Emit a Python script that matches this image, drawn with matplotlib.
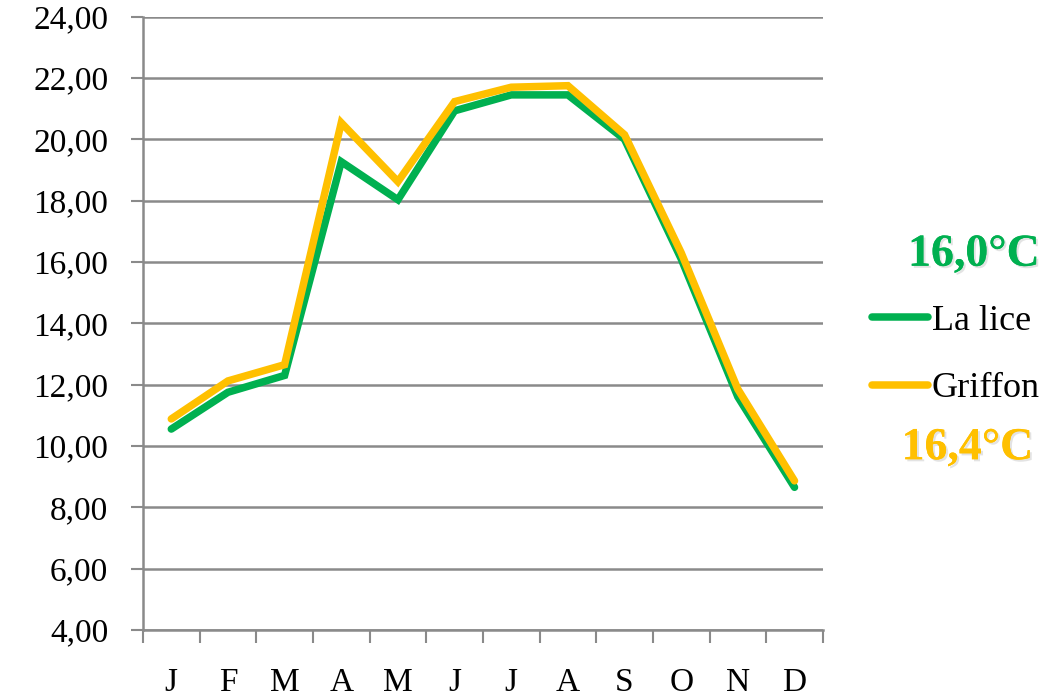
import matplotlib
matplotlib.use("Agg")
import matplotlib.pyplot as plt
import matplotlib.patheffects as pe
import numpy as np

months = ["J", "F", "M", "A", "M", "J", "J", "A", "S", "O", "N", "D"]
la_lice = [10.55, 11.75, 12.3, 19.27, 18.03, 20.93, 21.45, 21.45, 20.0, 16.1, 11.6, 8.65]
griffon = [10.88, 12.12, 12.65, 20.54, 18.62, 21.23, 21.7, 21.75, 20.15, 16.3, 11.85, 8.86]
yticks = [4, 6, 8, 10, 12, 14, 16, 18, 20, 22, 24]
mean_lice = "16,0°C"
mean_griffon = "16,4°C"

green = "#00B050"
yellow = "#FFC000"
grid_col = "#8a8a8a"

plt.rcParams["font.family"] = ["Liberation Serif", "DejaVu Serif"]

fig = plt.figure(figsize=(10.59, 6.96), dpi=100)
ax = fig.add_axes([0.135, 0.095, 0.642, 0.881])

x = np.arange(len(months))
ax.plot(x, la_lice, color=green, lw=5.4, solid_joinstyle="miter", solid_capstyle="round", label="La lice")
ax.plot(x, griffon, color=yellow, lw=5.4, solid_joinstyle="miter", solid_capstyle="round", label="Griffon")

ax.set_xlim(-0.5, len(months) - 0.5)
ax.set_ylim(4, 24)
ax.set_yticks(yticks)
ax.set_yticklabels(["%d,00" % v for v in yticks], fontsize=24)
ax.yaxis.grid(True, color=grid_col, lw=1.8)
ax.set_axisbelow(True)

ax.set_xticks(x)
ax.set_xticklabels(months, fontsize=24)
ax.set_xticks(np.arange(-0.5, len(months)), minor=True)
ax.tick_params(axis="x", which="major", length=0, pad=27)
ax.tick_params(axis="x", which="minor", length=9, width=1.5, color=grid_col, direction="out")
ax.tick_params(axis="y", length=9, width=1.5, color=grid_col, pad=16)

for s in ["top", "right"]:
    ax.spines[s].set_visible(False)
ax.spines["left"].set_color(grid_col)
ax.spines["left"].set_linewidth(1.8)
ax.spines["bottom"].set_color(grid_col)
ax.spines["bottom"].set_linewidth(1.8)

# legend on the right with the annual means above and below
fig.legend(loc="center left", bbox_to_anchor=(0.823, 0.490), frameon=False,
           fontsize=26, handlelength=1.55, handletextpad=0.12, labelspacing=0.95,
           borderpad=0, borderaxespad=0)

shadow = [pe.withSimplePatchShadow(offset=(1.5, -1.5), shadow_rgbFace="#bbbbbb", alpha=0.4), pe.Normal()]
fig.text(0.982, 0.634, mean_lice, color=green, fontsize=33, fontweight="bold",
         ha="right", va="center", path_effects=shadow)
fig.text(0.976, 0.356, mean_griffon, color=yellow, fontsize=33, fontweight="bold",
         ha="right", va="center", path_effects=shadow)

fig.savefig("out.png", dpi=100, facecolor="white")
